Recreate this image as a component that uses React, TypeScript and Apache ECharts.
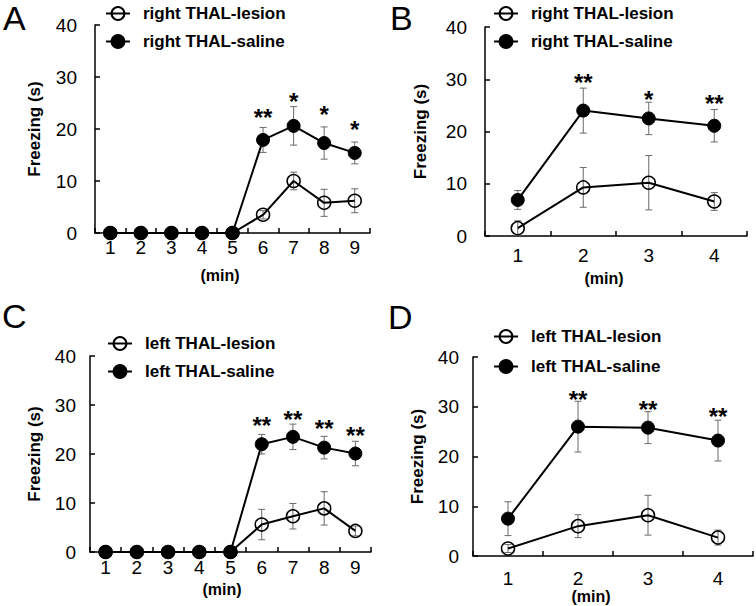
import React, { useEffect, useRef } from "react";
import * as echarts from "echarts";

const FONT = '"Liberation Sans", Arial, Helvetica, sans-serif';

// ---------- Data ----------
const minutesNine = ["1", "2", "3", "4", "5", "6", "7", "8", "9"];
const minutesFour = ["1", "2", "3", "4"];

const rightLesionName = "right THAL-lesion";
const rightSalineName = "right THAL-saline";
const leftLesionName = "left THAL-lesion";
const leftSalineName = "left THAL-saline";

// Panel A
const aLesion = [0, 0, 0, 0, 0, 3.5, 10.0, 5.8, 6.2];
const aLesionErr = [0, 0, 0, 0, 0, 0.8, 1.7, 2.6, 2.3];
const aSaline = [0, 0, 0, 0, 0, 17.9, 20.6, 17.3, 15.4];
const aSalineErr = [0, 0, 0, 0, 0, 2.4, 3.7, 3.1, 2.1];
const aStars = ["", "", "", "", "", "**", "*", "*", "*"];
const aStarLevel = [0, 0, 0, 0, 0, 23.1, 26.2, 23.7, 20.8];

// Panel B
const bLesion = [1.5, 9.3, 10.2, 6.6];
const bLesionErr = [1.4, 3.8, 5.2, 1.7];
const bSaline = [6.9, 24.0, 22.5, 21.1];
const bSalineErr = [1.8, 4.3, 3.1, 3.1];
const bStars = ["", "**", "*", "**"];
const bStarLevel = [0, 30.4, 27.0, 26.4];

// Panel C
const cLesion = [0, 0, 0, 0, 0, 5.6, 7.3, 8.9, 4.3];
const cLesionErr = [0, 0, 0, 0, 0, 3.1, 2.6, 3.4, 1.0];
const cSaline = [0, 0, 0, 0, 0, 22.0, 23.5, 21.3, 20.1];
const cSalineErr = [0, 0, 0, 0, 0, 2.0, 2.6, 2.3, 2.5];
const cStars = ["", "", "", "", "", "**", "**", "**", "**"];
const cStarLevel = [0, 0, 0, 0, 0, 26.9, 28.0, 26.3, 24.7];

// Panel D
const dLesion = [1.5, 6.0, 8.2, 3.7];
const dLesionErr = [0.8, 2.3, 4.0, 1.5];
const dSaline = [7.5, 26.0, 25.8, 23.2];
const dSalineErr = [3.4, 5.1, 3.2, 4.1];
const dStars = ["", "**", "**", "**"];
const dStarLevel = [0, 32.4, 30.4, 29.1];

const panelLetters = ["A", "B", "C", "D"];
const yTickMax = 40;
const yTickStep = 10;

// ---------- Layout ----------
const panels = [
  {
    letter: panelLetters[0], letterPos: { left: 3, top: 1 },
    cats: minutesNine, lesion: aLesion, lesionErr: aLesionErr, saline: aSaline, salineErr: aSalineErr,
    stars: aStars, starLevel: aStarLevel, lesionName: rightLesionName, salineName: rightSalineName,
    grid: { left: 95, top: 25, width: 275, height: 208 },
    legend: { left: 105, top: 5, gap: 11 },
    yNameGap: 52, yLabelMargin: 18, xLabelMargin: 5, xNameGap: 34, xNamePad: 25,
  },
  {
    letter: panelLetters[1], letterPos: { left: 390, top: 1 },
    cats: minutesFour, lesion: bLesion, lesionErr: bLesionErr, saline: bSaline, salineErr: bSalineErr,
    stars: bStars, starLevel: bStarLevel, lesionName: rightLesionName, salineName: rightSalineName,
    grid: { left: 485, top: 27, width: 262, height: 209 },
    legend: { left: 493, top: 5, gap: 11 },
    yNameGap: 56, yLabelMargin: 18, xLabelMargin: 10, xNameGap: 34, xNamePad: 24,
  },
  {
    letter: panelLetters[2], letterPos: { left: 2, top: 299 },
    cats: minutesNine, lesion: cLesion, lesionErr: cLesionErr, saline: cSaline, salineErr: cSalineErr,
    stars: cStars, starLevel: cStarLevel, lesionName: leftLesionName, salineName: leftSalineName,
    grid: { left: 90, top: 356, width: 281, height: 196 },
    legend: { left: 107, top: 335, gap: 11 },
    yNameGap: 47, yLabelMargin: 14, xLabelMargin: 6, xNameGap: 29, xNamePad: 17,
  },
  {
    letter: panelLetters[3], letterPos: { left: 388, top: 300 },
    cats: minutesFour, lesion: dLesion, lesionErr: dLesionErr, saline: dSaline, salineErr: dSalineErr,
    stars: dStars, starLevel: dStarLevel, lesionName: leftLesionName, salineName: leftSalineName,
    grid: { left: 473, top: 357, width: 280, height: 199 },
    legend: { left: 493, top: 328, gap: 13 },
    yNameGap: 47, yLabelMargin: 14, xLabelMargin: 13, xNameGap: 31, xNamePad: 44,
  },
];

function errorSeries(idx: number, means: number[], errs: number[]) {
  const data = means.map((m, i) => [i, m, errs[i]]);
  return {
    type: "custom",
    xAxisIndex: idx,
    yAxisIndex: idx,
    z: 1,
    silent: true,
    encode: { x: 0, y: 1 },
    data,
    renderItem: (_params: any, api: any) => {
      const x = api.value(0);
      const m = api.value(1);
      const e = api.value(2);
      if (!e) return null;
      const top = api.coord([x, m + e]);
      const bot = api.coord([x, Math.max(0, m - e)]);
      const w = 3.5;
      const style = { stroke: "#6a6a6a", lineWidth: 1 };
      return {
        type: "group",
        children: [
          { type: "line", shape: { x1: top[0], y1: top[1], x2: bot[0], y2: bot[1] }, style },
          { type: "line", shape: { x1: top[0] - w, y1: top[1], x2: top[0] + w, y2: top[1] }, style },
          { type: "line", shape: { x1: bot[0] - w, y1: bot[1], x2: bot[0] + w, y2: bot[1] }, style },
        ],
      };
    },
  };
}

function starSeries(idx: number, stars: string[], levels: number[]) {
  const data = stars
    .map((s, i) => [i, levels[i], s] as [number, number, string])
    .filter((d) => d[2]);
  return {
    type: "custom",
    xAxisIndex: idx,
    yAxisIndex: idx,
    z: 5,
    silent: true,
    encode: { x: 0, y: 1 },
    data: data.map((d) => [d[0], d[1]]),
    renderItem: (params: any, api: any) => {
      const p = api.coord([api.value(0), api.value(1)]);
      return {
        type: "text",
        x: p[0],
        y: p[1] + 5,
        style: {
          text: data[params.dataIndex][2],
          fill: "#000",
          fontSize: 24,
          fontWeight: "bold",
          fontFamily: FONT,
          align: "center",
          verticalAlign: "middle",
        },
      };
    },
  };
}

function buildOption() {
  const title: any[] = [];
  const grid: any[] = [];
  const xAxis: any[] = [];
  const yAxis: any[] = [];
  const legend: any[] = [];
  const series: any[] = [];

  panels.forEach((p, idx) => {
    title.push({
      text: p.letter,
      left: p.letterPos.left,
      top: p.letterPos.top,
      padding: 0,
      textStyle: { fontSize: 34, fontWeight: "normal", color: "#000", fontFamily: FONT },
    });
    grid.push({ ...p.grid, containLabel: false });
    xAxis.push({
      type: "category",
      gridIndex: idx,
      data: p.cats,
      boundaryGap: true,
      axisLine: { show: true, onZero: false, lineStyle: { color: "#000", width: 1.5 } },
      axisTick: { show: true, inside: true, length: 5, interval: 0, lineStyle: { color: "#000", width: 1.5 } },
      axisLabel: { interval: 0, fontSize: 19, color: "#000", fontFamily: FONT, margin: p.xLabelMargin },
      splitLine: { show: false },
      name: "(min)",
      nameLocation: "middle",
      nameGap: p.xNameGap,
      nameTextStyle: {
        fontSize: 16,
        fontWeight: "bold",
        color: "#000",
        fontFamily: FONT,
        padding: [0, p.xNamePad, 0, 0],
      },
    });
    yAxis.push({
      type: "value",
      gridIndex: idx,
      min: 0,
      max: yTickMax,
      interval: yTickStep,
      axisLine: { show: true, lineStyle: { color: "#000", width: 1.5 } },
      axisTick: { show: true, inside: true, length: 5, lineStyle: { color: "#000", width: 1.5 } },
      axisLabel: { fontSize: 19, color: "#000", fontFamily: FONT, margin: p.yLabelMargin },
      splitLine: { show: false },
      name: "Freezing (s)",
      nameLocation: "middle",
      nameRotate: 90,
      nameGap: p.yNameGap,
      nameTextStyle: { fontSize: 17, fontWeight: "bold", color: "#000", fontFamily: FONT },
    });
    legend.push({
      data: [p.lesionName, p.salineName],
      orient: "vertical",
      left: p.legend.left,
      top: p.legend.top,
      padding: 0,
      itemGap: p.legend.gap,
      itemWidth: 24,
      itemHeight: 16,
      selectedMode: false,
      textStyle: {
        fontSize: 17,
        fontWeight: "bold",
        color: "#000",
        fontFamily: FONT,
        padding: [0, 0, 0, 8],
      },
    });
    series.push(errorSeries(idx, p.lesion, p.lesionErr));
    series.push(errorSeries(idx, p.saline, p.salineErr));
    series.push({
      type: "line",
      name: p.lesionName,
      xAxisIndex: idx,
      yAxisIndex: idx,
      data: p.lesion,
      z: 3,
      symbol: "circle",
      symbolSize: 13,
      showAllSymbol: true,
      lineStyle: { color: "#000", width: 2 },
      itemStyle: { color: "rgba(255,255,255,0)", borderColor: "#000", borderWidth: 1.5 },
    });
    series.push({
      type: "line",
      name: p.salineName,
      xAxisIndex: idx,
      yAxisIndex: idx,
      data: p.saline,
      z: 4,
      symbol: "circle",
      symbolSize: 13,
      showAllSymbol: true,
      lineStyle: { color: "#000", width: 2 },
      itemStyle: { color: "#000", borderColor: "#000", borderWidth: 1 },
    });
    series.push(starSeries(idx, p.stars, p.starLevel));
  });

  return {
    animation: false,
    backgroundColor: "#fff",
    textStyle: { fontFamily: FONT },
    title,
    grid,
    xAxis,
    yAxis,
    legend,
    series,
  };
}

export default function App() {
  const ref = useRef<HTMLDivElement>(null);
  useEffect(() => {
    if (!ref.current) return;
    const chart = echarts.init(ref.current, undefined, { renderer: "svg" });
    chart.setOption(buildOption() as any);
    return () => chart.dispose();
  }, []);
  return (
    <div
      ref={ref}
      style={{ position: "fixed", left: 0, top: 0, width: 756, height: 606, background: "#fff" }}
    />
  );
}
